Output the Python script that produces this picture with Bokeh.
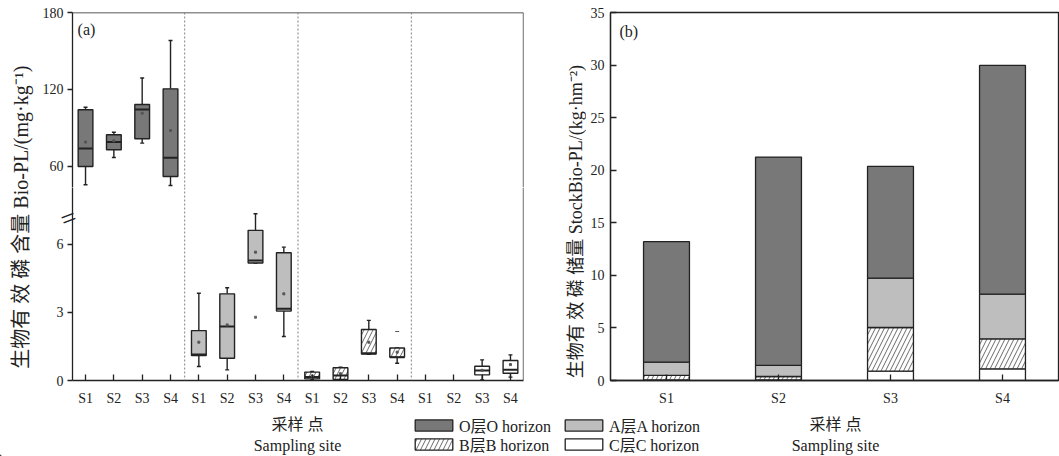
import numpy as np
from bokeh.plotting import figure
from bokeh.models import Range1d, FixedTicker, Span, Label, Legend, LegendItem, LinearAxis
from bokeh.layouts import row, column
from bokeh.embed import file_html
from bokeh.resources import INLINE

# ---------------- data ----------------
sites = ["S1", "S2", "S3", "S4"]

# panel (a): box statistics of Bio-P_L (mg/kg) per horizon, order S1..S4
O_lo = [45.7, 67.0, 78.2, 45.2]
O_q1 = [60.0, 73.0, 81.6, 52.2]
O_med = [74.0, 79.0, 104.4, 66.8]
O_q3 = [104.2, 84.7, 108.3, 120.5]
O_hi = [106.2, 86.7, 129.0, 158.2]
O_mean = [79.0, 80.0, 101.5, 88.0]

A_lo = [0.62, 0.47, 5.18, 1.94]
A_q1 = [1.10, 0.98, 5.18, 3.06]
A_med = [1.15, 2.38, 5.29, 3.16]
A_q3 = [2.20, 3.82, 6.62, 5.63]
A_hi = [3.85, 4.09, 7.35, 5.88]
A_mean = [1.69, 2.45, 5.66, 3.82]

B_lo = [0.03, 0.04, 1.15, 0.76]
B_q1 = [0.07, 0.05, 1.17, 1.03]
B_med = [0.15, 0.22, 1.20, 1.03]
B_q3 = [0.37, 0.56, 2.25, 1.43]
B_hi = [0.40, 0.59, 2.65, 1.43]
B_mean = [0.20, 0.30, 1.69, 1.25]

C_site_idx = [2, 3]  # C horizon boxes only for S3, S4
C_lo = [0.02, 0.15]
C_q1 = [0.25, 0.32]
C_med = [0.44, 0.47]
C_q3 = [0.63, 0.88]
C_hi = [0.91, 1.13]
C_mean = [0.45, 0.70]

# extreme points
A_out_site, A_out_val = [2], [2.79]
B_out_site, B_out_val = [3], [2.16]

# panel (b): stock of Bio-P_L (kg/hm2) per horizon, S1..S4
stock_C = [0.05, 0.05, 0.89, 1.11]
stock_B = [0.43, 0.33, 4.15, 2.85]
stock_A = [1.26, 1.05, 4.70, 4.25]
stock_O = [11.46, 19.82, 10.62, 21.76]

horizon_labels = ["O层O horizon", "A层A horizon", "B层B horizon", "C层C horizon"]

# ---------------- style ----------------
SERIF = "'Liberation Serif', 'Noto Sans CJK SC', serif"
COL_O = "#787878"
COL_A = "#bebebe"
AX = "#222222"
TXT = "#222222"
TICK_FS = "14px"
LAB_FS = "16px"
HATCH = dict(hatch_pattern="/", hatch_scale=9, hatch_weight=0.8, hatch_color="#444444")


def style_common(p):
    p.grid.visible = False
    p.background_fill_color = "white"
    p.border_fill_color = "white"


def style_axis(ax, tick_in=0, tick_out=5, standoff=4):
    ax.axis_line_color = AX
    ax.axis_line_width = 1.3
    ax.major_tick_line_color = AX
    ax.major_tick_line_width = 1.3
    ax.major_tick_in = tick_in
    ax.major_tick_out = tick_out
    ax.minor_tick_line_color = None
    ax.major_label_text_font = SERIF
    ax.major_label_text_font_size = TICK_FS
    ax.major_label_text_color = TXT
    ax.major_label_standoff = standoff


def label_strip(w, h):
    f = figure(width=w, height=h, x_range=Range1d(0, w), y_range=Range1d(0, h),
               output_backend="svg", toolbar_location=None, x_axis_location=None,
               y_axis_location=None, min_border=0)
    style_common(f)
    f.outline_line_color = None
    return f


# ---------------- panel (a) ----------------
XA0, XA1 = 0.54, 16.46
xr_a = Range1d(XA0, XA1)
fa_top = figure(width=524, height=187, x_range=xr_a, y_range=Range1d(43.6, 180),
                output_backend="svg", toolbar_location=None, x_axis_location=None,
                min_border_left=36, min_border_right=37, min_border_top=12, min_border_bottom=0)
fa_bot = figure(width=524, height=223, x_range=xr_a, y_range=Range1d(0, 8.51),
                output_backend="svg", toolbar_location=None,
                min_border_left=36, min_border_right=37, min_border_top=0, min_border_bottom=30)
for p in (fa_top, fa_bot):
    style_common(p)
    p.outline_line_color = None

style_axis(fa_top.yaxis[0], tick_in=0, tick_out=5, standoff=4)
fa_top.yaxis[0].ticker = FixedTicker(ticks=[60, 120, 180])
style_axis(fa_bot.yaxis[0], tick_in=0, tick_out=5, standoff=4)
fa_bot.yaxis[0].ticker = FixedTicker(ticks=[0, 3, 6])
style_axis(fa_bot.xaxis[0], tick_in=6, tick_out=0, standoff=10)
xt = list(range(1, 17))
fa_bot.xaxis[0].ticker = FixedTicker(ticks=xt)
fa_bot.xaxis[0].major_label_overrides = {t: sites[(t - 1) % 4] for t in xt}

# axis-break mark: a second (outer) left axis whose only label is a slanted "="
fa_bot.extra_y_ranges = {"brk": Range1d(0, 193)}
brk = LinearAxis(y_range_name="brk", ticker=FixedTicker(ticks=[193]),
                 major_label_overrides={193: "="}, axis_line_color=None,
                 major_tick_line_color=None, minor_tick_line_color=None,
                 major_tick_in=0, major_tick_out=0,
                 major_label_orientation=0.36, major_label_text_font=SERIF,
                 major_label_text_font_size="27px", major_label_text_color=AX,
                 major_label_standoff=-22)
fa_bot.add_layout(brk, "left")

# frame: top and right borders, dotted group separators
fa_top.add_layout(Span(location=180, dimension="width", line_color=AX, line_width=1.3))
for p in (fa_top, fa_bot):
    p.add_layout(Span(location=XA1, dimension="height", line_color=AX, line_width=1.3))
    for loc in (4.5, 8.5, 12.5):
        p.add_layout(Span(location=loc, dimension="height", line_color="#808080",
                          line_width=1, line_dash="2 2"))

BW = 0.52
CAP = 0.07


def draw_boxes(p, xs, lo, q1, med, q3, hi, mean, fill, hatch=False):
    xs = np.asarray(xs, dtype=float)
    kw = dict(line_color=AX, line_width=1.4)
    p.segment(x0=xs, y0=q3, x1=xs, y1=hi, **kw)
    p.segment(x0=xs, y0=lo, x1=xs, y1=q1, **kw)
    p.segment(x0=xs - CAP, y0=hi, x1=xs + CAP, y1=hi, **kw)
    p.segment(x0=xs - CAP, y0=lo, x1=xs + CAP, y1=lo, **kw)
    hk = HATCH if hatch else {}
    p.vbar(x=xs, width=BW, bottom=q1, top=q3, fill_color=fill, line_color=AX,
           line_width=1.4, **hk)
    p.segment(x0=xs - BW / 2, y0=med, x1=xs + BW / 2, y1=med, line_color=AX, line_width=2)
    p.scatter(x=xs, y=mean, marker="square", size=2, color="#555555")


def pos(group, idx):
    return [group * 4 + i + 1 for i in idx]


draw_boxes(fa_top, pos(0, range(4)), O_lo, O_q1, O_med, O_q3, O_hi, O_mean, COL_O)
draw_boxes(fa_bot, pos(1, range(4)), A_lo, A_q1, A_med, A_q3, A_hi, A_mean, COL_A)
draw_boxes(fa_bot, pos(2, range(4)), B_lo, B_q1, B_med, B_q3, B_hi, B_mean, "white", hatch=True)
draw_boxes(fa_bot, pos(3, C_site_idx), C_lo, C_q1, C_med, C_q3, C_hi, C_mean, "white")
fa_bot.scatter(x=pos(1, A_out_site), y=A_out_val, marker="square", size=2, color="#666666")
fa_bot.scatter(x=pos(2, B_out_site), y=B_out_val, marker="dash", size=4, color="#555555")

fa_top.add_layout(Label(x=0.72, y=166.8, text="(a)", text_font=SERIF, text_font_size=LAB_FS,
                        text_baseline="middle", text_align="left", text_color=TXT))

# y label of panel (a) (spans the broken axis)
lab_a = label_strip(36, 410)
lab_a.add_layout(Label(x=20, y=182, angle=np.pi / 2,
                       text="生物有 效 磷 含量 Bio-PL/(mg·kg⁻¹)",
                       text_font=SERIF, text_font_size="20px", text_align="center",
                       text_baseline="middle", text_color=TXT))

# ---------------- panel (b) ----------------
lab_b = label_strip(26, 410)
lab_b.add_layout(Label(x=15, y=177, angle=np.pi / 2,
                       text="生物有 效 磷 储量 StockBio-PL/(kg·hm⁻²)",
                       text_font=SERIF, text_font_size="18px", text_align="center",
                       text_baseline="middle", text_color=TXT))

fb = figure(width=473, height=410, x_range=Range1d(0.5, 4.5), y_range=Range1d(0, 35),
            output_backend="svg", toolbar_location=None,
            min_border_left=24, min_border_right=1, min_border_top=12, min_border_bottom=30)
style_common(fb)
fb.outline_line_color = AX
fb.outline_line_width = 1.3
style_axis(fb.yaxis[0], tick_in=6, tick_out=0, standoff=6)
fb.yaxis[0].ticker = FixedTicker(ticks=[0, 5, 10, 15, 20, 25, 30, 35])
style_axis(fb.xaxis[0], tick_in=6, tick_out=0, standoff=10)
fb.xaxis[0].ticker = FixedTicker(ticks=[1, 2, 3, 4])
fb.xaxis[0].major_label_overrides = {i + 1: s for i, s in enumerate(sites)}

xb = np.arange(1, len(sites) + 1)
layers = [np.array(stock_C), np.array(stock_B), np.array(stock_A), np.array(stock_O)]
fills = ["white", "white", COL_A, COL_O]
hatched = [False, True, False, False]
bottom = np.zeros(len(sites))
for vals, fc, ht in zip(layers, fills, hatched):
    hk = HATCH if ht else {}
    fb.vbar(x=xb, width=0.41, bottom=bottom, top=bottom + vals, fill_color=fc,
            line_color=AX, line_width=1.3, **hk)
    bottom = bottom + vals

fb.add_layout(Label(x=0.58, y=33.2, text="(b)", text_font=SERIF, text_font_size=LAB_FS,
                    text_baseline="middle", text_align="left", text_color=TXT))

# ---------------- bottom strip: x titles + legend ----------------
SH = 46
strip = label_strip(1059, SH)
for xc in (297, 835):
    strip.add_layout(Label(x=xc, y=32, text="采样 点", text_font=SERIF, text_font_size=LAB_FS,
                           text_align="center", text_baseline="middle", text_color=TXT))
    strip.add_layout(Label(x=xc, y=11, text="Sampling site", text_font=SERIF,
                           text_font_size=LAB_FS, text_align="center", text_baseline="middle",
                           text_color=TXT))

# legend proxies (kept outside the visible range)
rO = strip.vbar(x=[-50], width=1, top=[1], fill_color=COL_O, line_color=AX, line_width=1.3)
rA = strip.vbar(x=[-50], width=1, top=[1], fill_color=COL_A, line_color=AX, line_width=1.3)
rB = strip.vbar(x=[-50], width=1, top=[1], fill_color="white", line_color=AX, line_width=1.3,
                **HATCH)
rC = strip.vbar(x=[-50], width=1, top=[1], fill_color="white", line_color=AX, line_width=1.3)

LEG_KW = dict(orientation="horizontal", glyph_width=47, glyph_height=14, label_standoff=2,
              spacing=4, padding=0, margin=0, border_line_color=None,
              background_fill_alpha=0, label_text_font=SERIF, label_text_font_size="16px",
              label_text_color=TXT, label_height=22, label_width=97)
leg1 = Legend(items=[LegendItem(label=horizon_labels[0], renderers=[rO]),
                     LegendItem(label=horizon_labels[1], renderers=[rA])],
              location=(410, 19), **LEG_KW)
leg2 = Legend(items=[LegendItem(label=horizon_labels[2], renderers=[rB]),
                     LegendItem(label=horizon_labels[3], renderers=[rC])],
              location=(410, 0), **LEG_KW)
strip.add_layout(leg1)
strip.add_layout(leg2)

layout = column(row(lab_a, column(fa_top, fa_bot), lab_b, fb), strip)

open("out.html", "w").write(file_html(layout, INLINE))
